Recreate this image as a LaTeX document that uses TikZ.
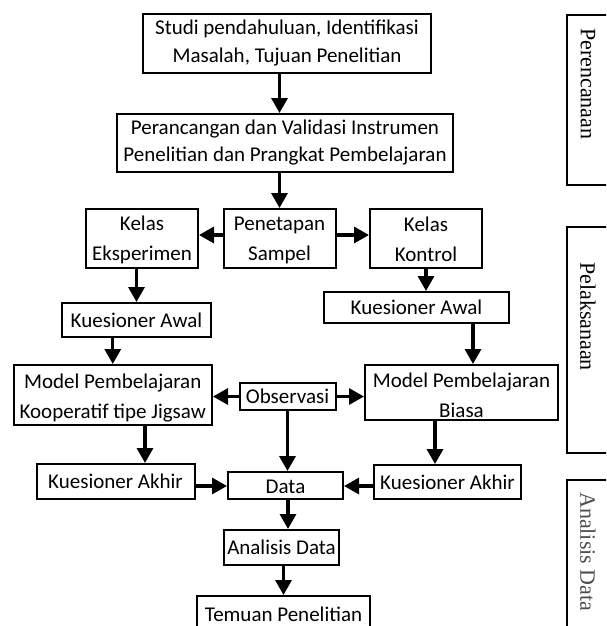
\documentclass[tikz,border=0pt]{standalone}
\usepackage{fontspec}
\setmainfont{Carlito}
\newfontfamily\sidefont{Liberation Serif}
\usetikzlibrary{arrows.meta}
\begin{document}
\begin{tikzpicture}[x=1pt,y=-1pt,
  box/.style={draw, line width=2pt, inner sep=0pt, align=center, font=\fontsize{21}{28}\selectfont},
  wide/.style={font=\fontsize{21}{30}\selectfont},
  arr/.style={line width=3.2pt, -{Triangle[length=15pt,width=16pt]}},
  side/.style={draw, line width=2pt, minimum width=63pt, inner sep=0pt},
  sidetext/.style={rotate=-90, anchor=west, inner sep=0pt, font=\sidefont\fontsize{22}{26}\selectfont}]
\useasboundingbox (0,0) rectangle (606,626);
\clip (0,0) rectangle (606,626);

\node[box, minimum width=288pt, minimum height=59pt] (studi) at (287,43.5) {Studi pendahuluan, Identifikasi\\Masalah, Tujuan Penelitian};
\node[box, font=\fontsize{21}{27}\selectfont, minimum width=336pt, minimum height=58pt] (per) at (285,143) {Perancangan dan Validasi Instrumen\\Penelitian dan Prangkat Pembelajaran};
\node[box, wide, minimum width=112pt, minimum height=59pt] (ke) at (142,238.5) {\rule{0pt}{17pt}Kelas\\Eksperimen};
\node[box, wide, minimum width=112pt, minimum height=59pt] (pen) at (279.5,238.5) {\rule{0pt}{17pt}Penetapan\\Sampel};
\node[box, wide, minimum width=112pt, minimum height=59pt] (kk) at (426,238.5) {\rule{0pt}{17pt}Kelas\\Kontrol};
\node[box, minimum width=149pt, minimum height=34pt] (kaL) at (136.5,320) {Kuesioner Awal};
\node[box, minimum width=185pt, minimum height=31pt] (kaR) at (416.5,307.5) {Kuesioner Awal};
\node[box, wide, minimum width=198.5pt, minimum height=60pt] (mL) at (112.75,395) {\rule{0pt}{20pt}Model Pembelajaran\\Kooperatif tipe Jigsaw};
\node[box, wide, minimum width=193pt, minimum height=55pt] (mR) at (461.5,392.5) {\rule{0pt}{21pt}Model Pembelajaran\\Biasa};
\node[box, minimum width=96pt, minimum height=27pt] (obs) at (287.5,396.5) {Observasi};
\node[box, minimum width=158pt, minimum height=35pt] (kkL) at (115.5,481.5) {Kuesioner Akhir};
\node[box, minimum width=115pt, minimum height=27pt] (data) at (285.5,485.5) {\rule{0pt}{17pt}Data};
\node[box, minimum width=147pt, minimum height=34pt] (kkR) at (447.5,482) {Kuesioner Akhir};
\node[box, minimum width=115pt, minimum height=35pt] (ana) at (281.5,547.5) {Analisis Data};
\node[box, minimum width=173pt, minimum height=36pt] (tem) at (283.5,614) {Temuan Penelitian};

\node[side, minimum height=170pt] (s1) at (598.5,100) {};
\node[side, minimum height=226pt] (s2) at (598.5,340) {};
\node[side, minimum height=170pt] (s3) at (598.5,565) {};
\node[sidetext] (t1) at (588,28) {Perencanaan};
\node[sidetext] (t2) at (588,262) {Pelaksanaan};
\node[sidetext, text=black!70] (t3) at (588,492) {Analisis Data};

\coordinate (pw) at ([yshift=3.5pt]pen.west);
\coordinate (pe) at ([yshift=3.5pt]pen.east);
\coordinate (c1) at ([xshift=11.5pt]mR.north);
\coordinate (c2) at ([xshift=29.5pt]kkL.north);
\coordinate (c3) at ([xshift=-12.5pt]kkR.north);
\coordinate (c4) at ([yshift=-4.5pt]kkL.east);
\coordinate (c5) at ([yshift=-4pt]kkR.west);
\coordinate (c6) at ([xshift=2.5pt]data.south);

\draw[arr] (studi.south -| pen.north) -- (per.north -| pen.north);
\draw[arr] (per.south -| pen.north) -- (pen.north);
\draw[arr] (pw) -- (pw -| ke.east);
\draw[arr] (pe) -- (pe -| kk.west);
\draw[arr] (ke.south -| kaL.north) -- (kaL.north);
\draw[arr] (kk.south) -- (kk.south |- kaR.north);
\draw[arr] (kaL.south -| mL.north) -- (mL.north);
\draw[arr] (kaR.south -| c1) -- (c1);
\draw[arr] (obs.west) -- (obs.west -| mL.east);
\draw[arr] (obs.east) -- (obs.east -| mR.west);
\draw[arr] (mL.south -| c2) -- (c2);
\draw[arr] (obs.south) -- (obs.south |- data.north);
\draw[arr] (mR.south -| c3) -- (c3);
\draw[arr] (c4) -- (c4 -| data.west);
\draw[arr] (c5) -- (c5 -| data.east);
\draw[arr] (c6) -- (c6 |- ana.north);
\draw[arr] (ana.south -| tem.north) -- (tem.north);
\end{tikzpicture}
\end{document}
